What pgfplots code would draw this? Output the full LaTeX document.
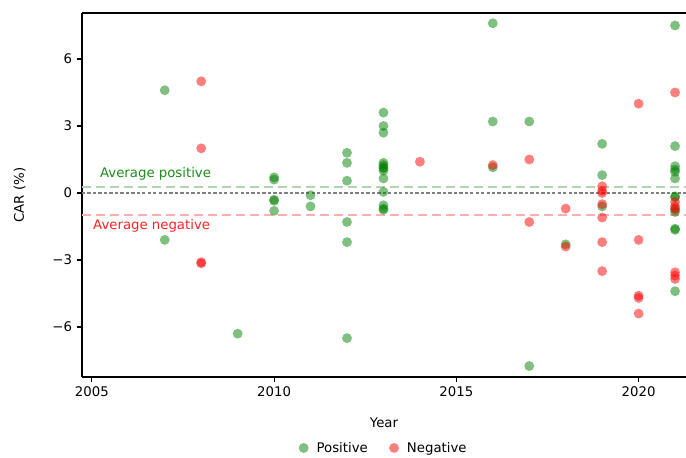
\documentclass[border=0pt]{standalone}
\usepackage{fontspec}
\setmainfont{DejaVu Sans}
\usepackage{pgfplots}
\pgfplotsset{compat=1.18}
\usetikzlibrary{calc}
\definecolor{posg}{RGB}{0,128,0}
\definecolor{negr}{RGB}{255,0,0}
\definecolor{poslinec}{RGB}{175,215,175}
\definecolor{redlinec}{RGB}{255,175,175}
\definecolor{postext}{RGB}{30,140,30}
\definecolor{negtext}{RGB}{255,35,35}
\begin{document}
\begin{tikzpicture}
\begin{axis}[
  name=ax,
  scale only axis,
  width=453bp, height=273bp,
  xmin=2004.73, xmax=2021.3,
  ymin=-8.24, ymax=8.06,
  axis x line=box, axis y line=left,
  axis line style={line width=0.8bp, -},
  xtick pos=bottom, ytick pos=left,
  tick align=outside,
  major tick length=4bp,
  tick style={line width=0.8bp, black},
  xtick={2005,2010,2015,2020},
  xticklabels={2005,2010,2015,2020},
  ytick={-6,-3,0,3,6},
  yticklabels={−6,−3,0,3,6},
  ticklabel style={font=\fontsize{10}{12}\selectfont},
  xlabel={Year}, ylabel={CAR (\%)},
  label style={font=\fontsize{10}{12}\selectfont},
  every axis x label/.style={at={(axis description cs:0.5,-0.126)},anchor=center},
  every axis y label/.style={at={(axis description cs:-0.103,0.5)},anchor=center,rotate=90},
  legend columns=2,
  legend style={draw=none, at={(0.5,-0.195)}, anchor=center,
    font=\fontsize{10}{12}\selectfont, column sep=4bp,
    /tikz/every even column/.append style={column sep=14bp}},
  legend cell align=left,
  clip=false,
]
% reference lines
\addplot[forget plot, draw=redlinec, line width=1.5bp, dash pattern=on 6.75bp off 3.75bp] coordinates {(2004.73,-1.0) (2021.3,-1.0)};
\addplot[forget plot, draw=poslinec, line width=1.2bp, dash pattern=on 6.75bp off 3.75bp] coordinates {(2004.73,0.27) (2021.3,0.27)};
\addplot[forget plot, draw=gray, line width=1.1bp, dash pattern=on 2.5bp off 1.6bp] coordinates {(2004.73,0) (2021.3,0)};

\addplot[only marks, mark=*, mark size=3.7bp, color=posg, draw opacity=0, fill opacity=0.5,
  mark options={draw=posg, fill=posg, draw opacity=0, fill opacity=0.5}] coordinates {
(2007,4.6) (2007,-2.1)
(2009,-6.3)
(2010,0.7) (2010,0.6) (2010,-0.3) (2010,-0.35) (2010,-0.8)
(2011,-0.1) (2011,-0.6)
(2012,1.8) (2012,1.35) (2012,0.55) (2012,-1.3) (2012,-2.2) (2012,-6.5)
(2013,3.6) (2013,3.0) (2013,2.7) (2013,1.35) (2013,1.25) (2013,1.15) (2013,1.1) (2013,1.0) (2013,0.65) (2013,0.05) (2013,-0.55) (2013,-0.7) (2013,-0.75)
(2016,7.6) (2016,3.2) (2016,1.15)
(2017,3.2) (2017,-7.75)
(2018,-2.3)
(2019,2.2) (2019,0.8) (2019,-0.6)
(2021,7.5) (2021,2.1) (2021,1.2) (2021,1.05) (2021,0.95) (2021,0.65) (2021,-0.15) (2021,-0.2) (2021,-0.7) (2021,-0.85) (2021,-1.6) (2021,-1.65) (2021,-4.4)
};
\addlegendentry{Positive}
\addplot[only marks, mark=*, mark size=3.7bp, color=negr, draw opacity=0, fill opacity=0.5,
  mark options={draw=negr, fill=negr, draw opacity=0, fill opacity=0.5}] coordinates {
(2008,5.0) (2008,2.0) (2008,-3.1) (2008,-3.15)
(2014,1.4)
(2016,1.25)
(2017,1.5) (2017,-1.3)
(2018,-0.7) (2018,-2.4)
(2019,0.3) (2019,0.1) (2019,0.0) (2019,-0.5) (2019,-1.1) (2019,-2.2) (2019,-3.5)
(2020,4.0) (2020,-2.1) (2020,-4.6) (2020,-4.7) (2020,-5.4)
(2021,4.5) (2021,-0.4) (2021,-0.6) (2021,-0.75) (2021,-3.55) (2021,-3.7) (2021,-3.85)
};
\addlegendentry{Negative}

\node[anchor=west, text=postext, font=\fontsize{10}{12}\selectfont, inner sep=0pt] at (axis cs:2005.22,0.85) {Average positive};
\node[anchor=west, text=negtext, font=\fontsize{10}{12}\selectfont, inner sep=0pt] at (axis cs:2005.03,-1.46) {Average negative};
\end{axis}
\pgfresetboundingbox
\useasboundingbox ($(ax.south west)+(-61.5bp,-60.75bp)$) rectangle ($(ax.north east)+(0,9.75bp)$);
\end{tikzpicture}
\end{document}
